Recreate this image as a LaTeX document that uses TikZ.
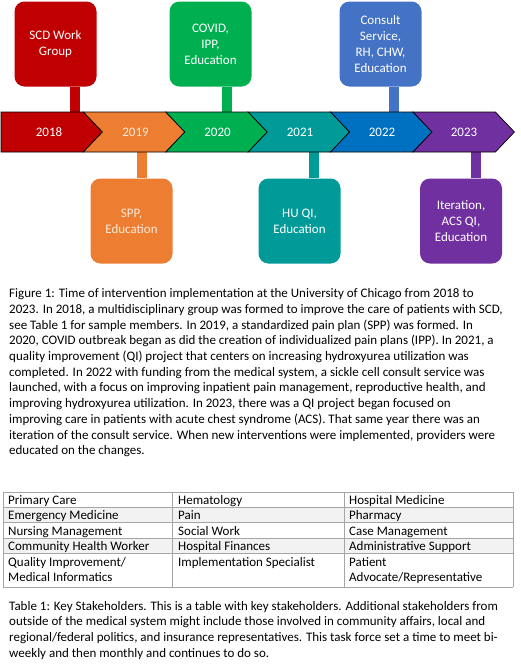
\documentclass[tikz,border=0pt]{standalone}
\usepackage{fontspec}
\setmainfont{Carlito}
\definecolor{cRed}{HTML}{C00000}
\definecolor{cOrange}{HTML}{ED7D31}
\definecolor{cGreen}{HTML}{00B050}
\definecolor{cTeal}{HTML}{009B98}
\definecolor{cBlue}{HTML}{0070C0}
\definecolor{cBoxBlue}{HTML}{4472C4}
\definecolor{cPurple}{HTML}{7030A0}
\definecolor{cCream}{HTML}{FDEBDD}
\definecolor{cGrid}{HTML}{A6A6A6}
\definecolor{cBand}{HTML}{F2F2F2}
\tikzset{
  evbox/.style={rounded corners=10pt, minimum width=82pt, minimum height=85pt, inner sep=0pt,
    align=center, text=white, font=\fontsize{13}{16}\selectfont},
  stemline/.style={line width=10pt},
  yearlbl/.style={text=white, font=\fontsize{13}{16}\selectfont, inner sep=0pt},
  chev/.style={draw=black, line width=0.7pt, line join=miter},
  cell/.style={anchor=base west, inner sep=0pt, align=left, font=\fontsize{13}{15.4}\selectfont},
  captxt/.style={anchor=north west, inner sep=0pt, align=left, font=\fontsize{13}{15.7}\selectfont},
  gridline/.style={draw=cGrid, line width=0.8pt}
}
\begin{document}
\begin{tikzpicture}[x=1pt,y=-1pt]
\useasboundingbox[fill=white] (0,0) rectangle (520,670);

% event boxes
\node[evbox, fill=cRed] (scd) at (55.5,44) {SCD Work\\Group};
\node[evbox, fill=cGreen] (covid) at (210.5,44) {COVID,\\IPP,\\Education};
\node[evbox, fill=cBoxBlue] (consult) at (380.5,44) {Consult\\Service,\\RH, CHW,\\Education};
\node[evbox, fill=cOrange, text=cCream] (spp) at (131.5,221) {SPP,\\Education};
\node[evbox, fill=cTeal] (hu) at (299.5,221) {HU QI,\\Education};
\node[evbox, fill=cPurple] (iter) at (461,221) {Iteration,\\ACS QI,\\Education};

% stem anchor points on the band
\coordinate (s18) at (75,112);
\coordinate (s20) at (227,112);
\coordinate (s22) at (394,112);
\coordinate (s19) at (142,152);
\coordinate (s21) at (314,152);
\coordinate (s23) at (476,152);

\draw[stemline, cRed] (scd.south -| s18) -- (s18);
\draw[stemline, cGreen] (covid.south -| s20) -- (s20);
\draw[stemline, cBoxBlue] (consult.south -| s22) -- (s22);
\draw[stemline, cOrange] (spp.north -| s19) -- (s19);
\draw[stemline, cTeal] (hu.north -| s21) -- (s21);
\draw[stemline, cPurple] (iter.north -| s23) -- (s23);

% chevron band
\def\ct{112}\def\cb{152}\def\cm{132}
\filldraw[chev, fill=cRed] (1,\ct) -- (83.4,\ct) -- (102.4,\cm) -- (83.4,\cb) -- (1,\cb) -- cycle;
\filldraw[chev, fill=cOrange] (83.4,\ct) -- (165.8,\ct) -- (184.8,\cm) -- (165.8,\cb) -- (83.4,\cb) -- (102.4,\cm) -- cycle;
\filldraw[chev, fill=cGreen] (165.8,\ct) -- (248.2,\ct) -- (267.2,\cm) -- (248.2,\cb) -- (165.8,\cb) -- (184.8,\cm) -- cycle;
\filldraw[chev, fill=cTeal] (248.2,\ct) -- (330.6,\ct) -- (349.6,\cm) -- (330.6,\cb) -- (248.2,\cb) -- (267.2,\cm) -- cycle;
\filldraw[chev, fill=cBlue] (330.6,\ct) -- (413,\ct) -- (432,\cm) -- (413,\cb) -- (330.6,\cb) -- (349.6,\cm) -- cycle;
\filldraw[chev, fill=cPurple] (413,\ct) -- (495.4,\ct) -- (514.4,\cm) -- (495.4,\cb) -- (413,\cb) -- (432,\cm) -- cycle;

\node[yearlbl] (y18) at (49,132) {2018};
\node[yearlbl, text=cCream] (y19) at (135.5,132) {2019};
\node[yearlbl] (y20) at (217.5,132) {2020};
\node[yearlbl] (y21) at (300,132) {2021};
\node[yearlbl] (y22) at (382,132) {2022};
\node[yearlbl] (y23) at (464,132) {2023};

% figure caption
\node[captxt] (cap1) at (9,288.5) {Figure 1: Time of intervention implementation at the University of Chicago from 2018 to\\
2023. In 2018, a multidisciplinary group was formed to improve the care of patients with SCD,\\
see Table 1 for sample members. In 2019, a standardized pain plan (SPP) was formed. In\\
2020, COVID outbreak began as did the creation of individualized pain plans (IPP). In 2021, a\\
quality improvement (QI) project that centers on increasing hydroxyurea utilization was\\
completed. In 2022 with funding from the medical system, a sickle cell consult service was\\
launched, with a focus on improving inpatient pain management, reproductive health, and\\
improving hydroxyurea utilization. In 2023, there was a QI project began focused on\\
improving care in patients with acute chest syndrome (ACS). That same year there was an\\
iteration of the consult service. When new interventions were implemented, providers were\\
educated on the changes.};

% table
\fill[cBand] (3,507.5) rectangle (513,522.5);
\fill[cBand] (3,538) rectangle (513,553.5);
\foreach \yy in {492,507.5,522.5,538,553.5,587} \draw[gridline] (3,\yy) -- (513,\yy);
\foreach \xx in {3,172,344,513} \draw[gridline] (\xx,492) -- (\xx,587);

\node[cell] (t11) at (8,504) {Primary Care};
\node[cell] (t12) at (178,504) {Hematology};
\node[cell] (t13) at (349,504) {Hospital Medicine};
\node[cell] (t21) at (8,519.5) {Emergency Medicine};
\node[cell] (t22) at (178,519.5) {Pain};
\node[cell] (t23) at (349,519.5) {Pharmacy};
\node[cell] (t31) at (8,535) {Nursing Management};
\node[cell] (t32) at (178,535) {Social Work};
\node[cell] (t33) at (349,535) {Case Management};
\node[cell] (t41) at (8,550.5) {Community Health Worker};
\node[cell] (t42) at (178,550.5) {Hospital Finances};
\node[cell] (t43) at (349,550.5) {Administrative Support};
\node[cell] (t51) at (8,566) {Quality Improvement/};
\node[cell] (t51b) at (8,581.5) {Medical Informatics};
\node[cell] (t52) at (178,566) {Implementation Specialist};
\node[cell] (t53) at (349,566) {Patient};
\node[cell] (t53b) at (349,581.5) {Advocate/Representative};

% table caption
\node[captxt] (cap2) at (9,601) {Table 1: Key Stakeholders. This is a table with key stakeholders. Additional stakeholders from\\
outside of the medical system might include those involved in community affairs, local and\\
regional/federal politics, and insurance representatives. This task force set a time to meet bi-\\
weekly and then monthly and continues to do so.};
\end{tikzpicture}
\end{document}
